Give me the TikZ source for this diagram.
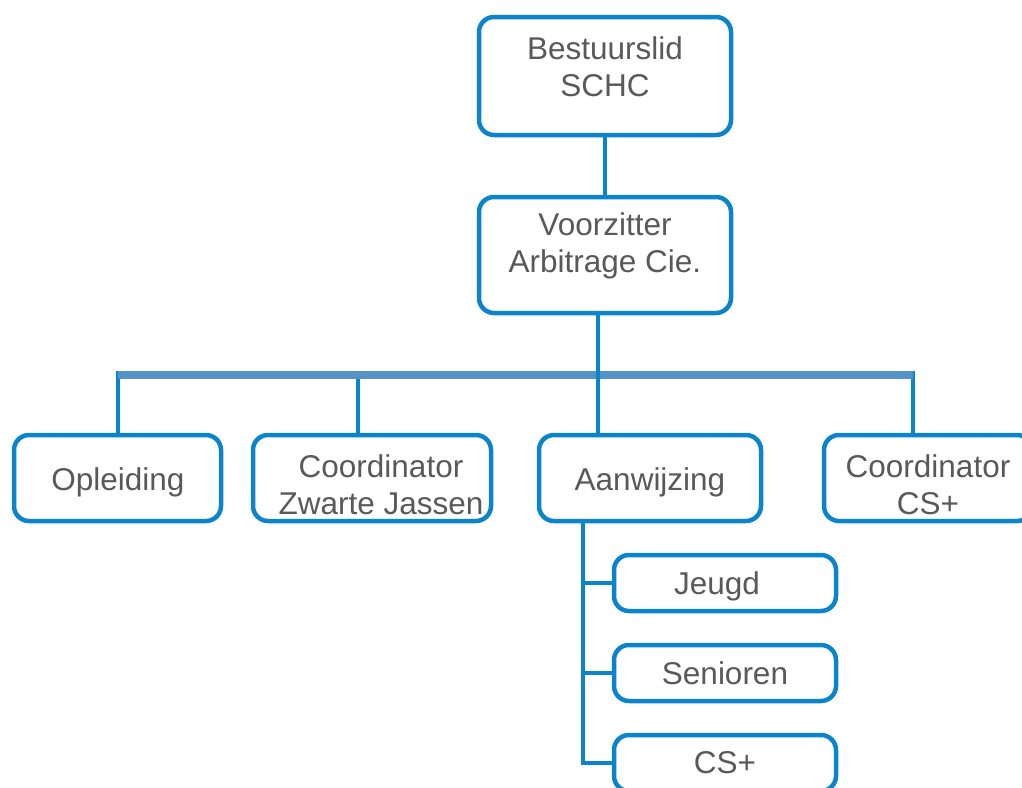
\documentclass[tikz,border=0pt]{standalone}
\usepackage{fontspec}
\setmainfont{Liberation Sans}
\definecolor{boxblue}{RGB}{11,132,204}
\definecolor{barblue}{RGB}{85,146,198}
\definecolor{txtgray}{RGB}{89,89,89}

\begin{document}
\begin{tikzpicture}[x=1pt, y=-1pt,
    blok/.style={draw=boxblue, line width=4.5pt, rounded corners=15pt, fill=white, inner sep=0pt},
    tekst/.style={text=txtgray, font=\fontsize{31.5}{37}\selectfont, align=center, inner sep=0pt},
    lijn/.style={draw=boxblue, line width=4.8pt},
    balk/.style={draw=barblue, line width=8pt}]
            \useasboundingbox (0,0) rectangle (1022,787);

            % Branch points
            \coordinate (split) at (598,375);
            \coordinate (bl) at (118,375);
            \coordinate (br) at (913,375);
            \coordinate (k1) at (118,371);
            \coordinate (k2) at (358,371);
            \coordinate (k4) at (913,371);
            \coordinate (sub) at (583,0);

            % Boxes
            \node[blok, minimum width=252, minimum height=118] (best) at (605,76) {};
            \node[blok, minimum width=252, minimum height=116] (voorz) at (605,255) {};
            \node[blok, minimum width=207, minimum height=86] (opl) at (117.5,478) {};
            \node[blok, minimum width=238, minimum height=86] (zwart) at (372,478) {};
            \node[blok, minimum width=222, minimum height=86] (aanw) at (650,478) {};
            \node[blok, minimum width=208, minimum height=86] (coord) at (928,478) {};
            \node[blok, minimum width=222, minimum height=56] (jeugd) at (725,583) {};
            \node[blok, minimum width=222, minimum height=56] (sen) at (725,673) {};
            \node[blok, minimum width=222, minimum height=56] (cs) at (725,763) {};

            % Connectors
            \draw[lijn] (best.south) -- (voorz.north);
            \draw[lijn] (k1) -- (k1 |- opl.north);
            \draw[lijn] (k2) -- (k2 |- zwart.north);
            \draw[lijn] (k4) -- (k4 |- coord.north);
            \draw[balk] (bl) -- (br);
            \draw[lijn] (voorz.south -| split) -- (aanw.north -| split);
            \draw[lijn] (aanw.south -| sub) |- (cs.west);
            \draw[lijn] (jeugd.west -| sub) -- (jeugd.west);
            \draw[lijn] (sen.west -| sub) -- (sen.west);

            % Texts
            \node[tekst] (t1) at (605,67) {Bestuurslid\\SCHC};
            \node[tekst] (t2) at (605,246) {Voorzitter\\Arbitrage Cie.};
            \node[tekst] (t3) at (118,482) {Opleiding};
            \node[tekst] (t4) at (381,485) {Coordinator\\Zwarte Jassen};
            \node[tekst] (t5) at (650,482) {Aanwijzing};
            \node[tekst] (t6) at (928,485) {Coordinator\\CS+};
            \node[tekst] (t7) at (717,586) {Jeugd};
            \node[tekst] (t8) at (725,673) {Senioren};
            \node[tekst] (t9) at (725,763) {CS+};
\end{tikzpicture}
\end{document}
